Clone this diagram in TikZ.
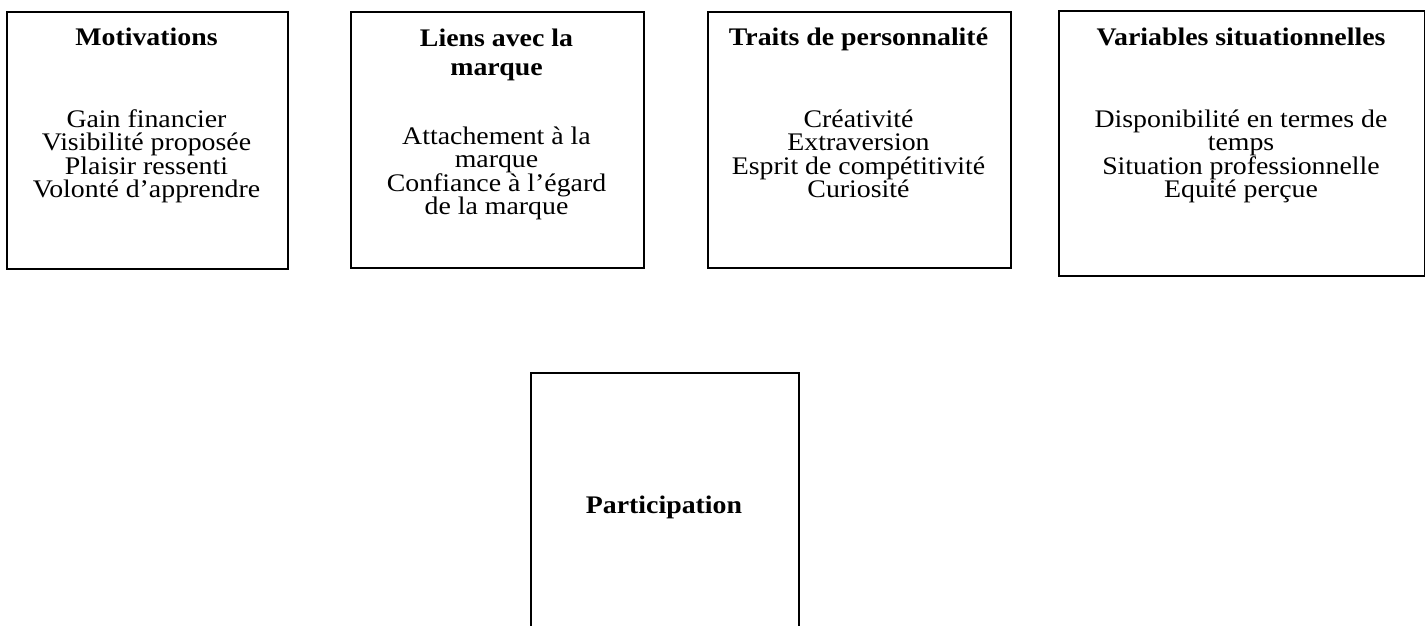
\documentclass[tikz,border=0pt]{standalone}
\usepackage{fontspec}
\setmainfont{Liberation Serif}[FakeStretch=1.1]
\begin{document}
\begin{tikzpicture}[x=1pt,y=-1pt,
  box/.style={draw=black, line width=2pt, inner sep=0pt, anchor=north west},
  ttl/.style={font=\fontsize{25.3}{29}\selectfont\bfseries, align=center, anchor=base, inner sep=0pt},
  bodytext/.style={font=\fontsize{25.3}{23.5}\selectfont, align=center, anchor=base, inner sep=0pt}]
\useasboundingbox (0,0) rectangle (1425,625);
\clip (0,0) rectangle (1425,625);
% boxes
\node[box, minimum width=281pt, minimum height=257.5pt] (b1) at (6,10.5) {};
\node[box, minimum width=293pt, minimum height=256.5pt] (b2) at (350,10.5) {};
\node[box, minimum width=303pt, minimum height=256.5pt] (b3) at (707,10.5) {};
\node[box, minimum width=365.5pt, minimum height=265pt] (b4) at (1058,10) {};
\node[box, minimum width=268pt, minimum height=320pt] (bp) at (530,372) {};
% texts (base anchor = baseline of the last line)
\node[ttl] (t1) at (146.5,45) {Motivations};
\node[bodytext] (x1) at (146.5,197.5) {Gain financier\\Visibilité proposée\\Plaisir ressenti\\Volonté d’apprendre};
\node[ttl] (t2) at (496.5,75) {Liens avec la\\marque};
\node[bodytext] (x2) at (496.5,214.5) {Attachement à la\\marque\\Confiance à l’égard\\de la marque};
\node[ttl] (t3) at (858.5,45) {Traits de personnalité};
\node[bodytext] (x3) at (858.5,197.5) {Créativité\\Extraversion\\Esprit de compétitivité\\Curiosité};
\node[ttl] (t4) at (1241,45) {Variables situationnelles};
\node[bodytext] (x4) at (1241,197.5) {Disponibilité en termes de\\temps\\Situation professionnelle\\Equité perçue};
\node[ttl] (tp) at (664,513) {Participation};
\end{tikzpicture}
\end{document}
